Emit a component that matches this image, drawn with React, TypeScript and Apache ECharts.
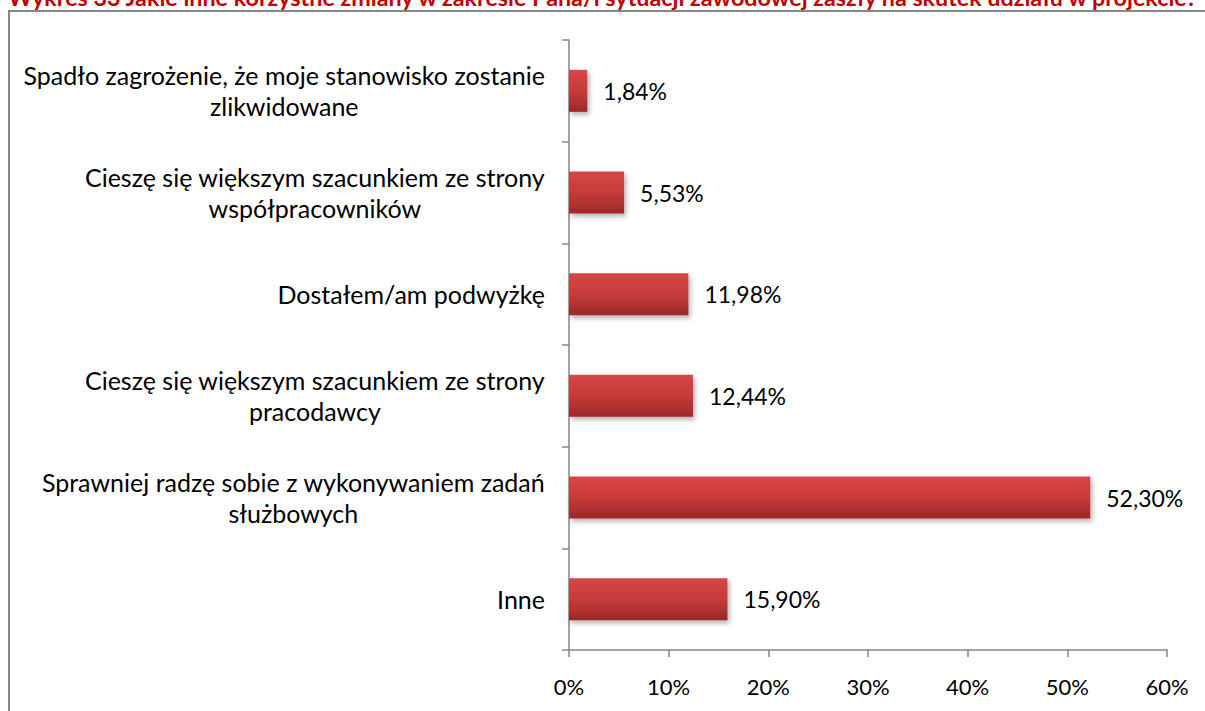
import React, { useEffect, useRef } from "react";
import * as echarts from "echarts";

const TITLE =
  "Wykres 33 Jakie inne korzystne zmiany w zakresie Pana/i sytuacji zawodowej zaszły na skutek udziału w projekcie?";

const categories = [
  "Spadło zagrożenie, że moje stanowisko zostanie\nzlikwidowane",
  "Cieszę się większym szacunkiem ze strony\nwspółpracowników",
  "Dostałem/am podwyżkę",
  "Cieszę się większym szacunkiem ze strony\npracodawcy",
  "Sprawniej radzę sobie z wykonywaniem zadań\nsłużbowych",
  "Inne",
];

const values = [1.84, 5.53, 11.98, 12.44, 52.3, 15.9];

const FONT = "Lato, 'Open Sans', sans-serif";

export default function App() {
  const ref = useRef<HTMLDivElement>(null);

  useEffect(() => {
    document.body.style.margin = "0";
    const chart = echarts.init(ref.current!, null, { renderer: "svg" });
    chart.setOption({
      animation: false,
      backgroundColor: "#ffffff",
      graphic: [
        {
          type: "rect",
          shape: { x: 9, y: 11, width: 1300, height: 800 },
          style: { fill: "none", stroke: "#868686", lineWidth: 2 },
          silent: true,
          z: 0,
        },
        {
          type: "text",
          x: 8,
          y: -3,
          style: {
            text: TITLE,
            fill: "#c00000",
            font: "bold 23.3px " + FONT,
            textVerticalAlign: "middle",
          },
          z: 10,
        },
      ],
      grid: { left: 569, right: 38, top: 40, bottom: 61 },
      xAxis: {
        type: "value",
        min: 0,
        max: 60,
        interval: 10,
        axisLine: { show: true, lineStyle: { color: "#868686", width: 1.5 } },
        axisTick: { show: true, length: 7, lineStyle: { color: "#868686", width: 1.5 } },
        splitLine: { show: false },
        axisLabel: {
          formatter: (v: number) => v + "%",
          color: "#000",
          fontSize: 22,
          fontFamily: FONT,
          margin: 25,
        },
      },
      yAxis: {
        type: "category",
        inverse: true,
        data: categories,
        axisLine: { show: true, lineStyle: { color: "#868686", width: 1.5 } },
        axisTick: { show: true, length: 7, lineStyle: { color: "#868686", width: 1.5 } },
        axisLabel: {
          color: "#000",
          fontSize: 25,
          fontFamily: FONT,
          margin: 24,
          lineHeight: 31,
          formatter: (v: string) =>
            v
              .split("\n")
              .map((l) => "{c|" + l + "}")
              .join("\n"),
          rich: {
            c: {
              align: "center",
              color: "#000",
              fontSize: 25,
              fontFamily: FONT,
              lineHeight: 31,
            },
          },
        },
      },
      series: [
        {
          type: "bar",
          data: values,
          barWidth: 42,
          itemStyle: {
            color: new echarts.graphic.LinearGradient(0, 0, 0, 1, [
              { offset: 0, color: "#d84646" },
              { offset: 0.5, color: "#c73b3b" },
              { offset: 1, color: "#9c2828" },
            ]),
            shadowColor: "rgba(0,0,0,0.3)",
            shadowBlur: 5,
            shadowOffsetX: 2,
            shadowOffsetY: 3,
          },
          label: {
            show: true,
            position: "right",
            distance: 16,
            color: "#000",
            fontSize: 23,
            fontFamily: FONT,
            formatter: (p: any) => p.value.toFixed(2).replace(".", ",") + "%",
          },
        },
      ],
    });
    return () => chart.dispose();
  }, []);

  return (
    <div
      ref={ref}
      style={{ position: "absolute", left: 0, top: 0, width: 1205, height: 711 }}
    />
  );
}
